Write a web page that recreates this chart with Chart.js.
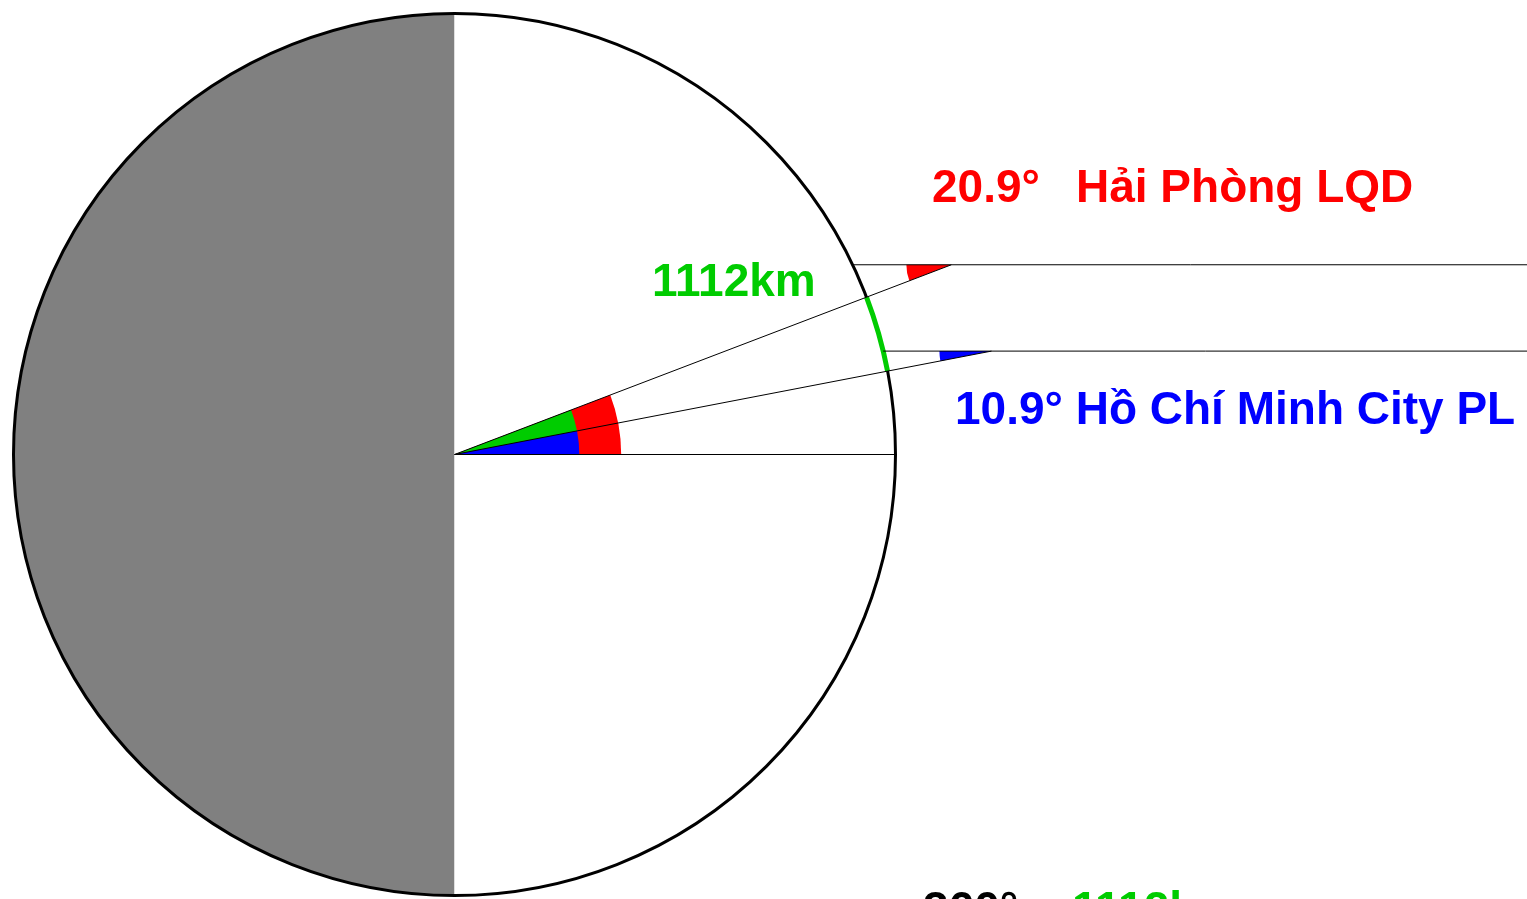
<!DOCTYPE html>
<html>
<head>
<meta charset="utf-8">
<script src="https://cdn.jsdelivr.net/npm/chart.js@4.4.1/dist/chart.umd.min.js"></script>
<style>
  html, body { margin: 0; padding: 0; background: #fff; overflow: hidden; }
  #wrap { width: 1527px; height: 899px; }
</style>
</head>
<body>
<div id="wrap"><canvas id="earth"></canvas></div>
<script>
// the two cities, their latitude (degrees) and colour
var cityNames = ['Hải Phòng LQD', 'Hồ Chí Minh City PL'];
var latitudes = [20.9, 10.9];
var cityColors = ['#ff0000', '#0000ff'];
// how far each ray from the centre runs, in earth radii
var rayLengths = [1.206, 1.24];
var arcLabel = '1112km';
var bottomLabels = ['360°', '1112km'];
var arcColor = '#00cc00';

function rad(d) { return d * Math.PI / 180; }

// visible window in earth radii (centre of the earth = 0,0)
var R_PX = 441;
var xMin = -454.5 / R_PX, xMax = (1527 - 454.5) / R_PX;
var yMax = 454.5 / R_PX, yMin = -(899 - 454.5) / R_PX;

var datasets = [];
latitudes.forEach(function(lat, i) {
  var L = rayLengths[i];
  var ex = L * Math.cos(rad(lat)), ey = L * Math.sin(rad(lat));
  // ray from the centre out past the surface
  datasets.push({ data: [{x: 0, y: 0}, {x: ex, y: ey}] });
  // parallel sun ray, from the surface to the right edge
  datasets.push({ data: [{x: Math.sqrt(1 - ey * ey), y: ey}, {x: xMax + 0.1, y: ey}] });
});
// equator
datasets.push({ data: [{x: 0, y: 0}, {x: 1, y: 0}] });
datasets.forEach(function(d) {
  d.showLine = true;
  d.borderColor = '#000';
  d.borderWidth = 1;
  d.pointRadius = 0;
  d.fill = false;
});

function wedge(ctx, x, y, r, a0, a1, color) {
  ctx.beginPath();
  ctx.moveTo(x, y);
  ctx.arc(x, y, r, a0, a1);
  ctx.closePath();
  ctx.fillStyle = color;
  ctx.fill();
}

var earthPlugin = {
  id: 'earth',
  beforeDatasetsDraw: function(chart) {
    var ctx = chart.ctx, sx = chart.scales.x, sy = chart.scales.y;
    var cx = sx.getPixelForValue(0), cy = sy.getPixelForValue(0);
    var r = sx.getPixelForValue(1) - cx;
    var a0 = rad(latitudes[0]), a1 = rad(latitudes[1]);
    ctx.save();
    // night side / day side
    ctx.beginPath();
    ctx.arc(cx, cy, r, Math.PI / 2, Math.PI * 1.5);
    ctx.closePath();
    ctx.fillStyle = '#808080';
    ctx.fill();
    ctx.beginPath();
    ctx.arc(cx, cy, r, -Math.PI / 2, Math.PI / 2);
    ctx.closePath();
    ctx.fillStyle = '#ffffff';
    ctx.fill();
    // angles at the centre
    wedge(ctx, cx, cy, r * 0.378, -a0, 0, cityColors[0]);
    wedge(ctx, cx, cy, r * 0.283, -a0, -a1, arcColor);
    wedge(ctx, cx, cy, r * 0.283, -a1, 0, cityColors[1]);
    // angles at the end of each ray
    var endR = [0.102, 0.118];
    latitudes.forEach(function(lat, i) {
      var L = rayLengths[i];
      var ex = sx.getPixelForValue(L * Math.cos(rad(lat)));
      var ey = sy.getPixelForValue(L * Math.sin(rad(lat)));
      wedge(ctx, ex, ey, r * endR[i], Math.PI - rad(lat), Math.PI, cityColors[i]);
    });
    // outline
    ctx.beginPath();
    ctx.arc(cx, cy, r, 0, Math.PI * 2);
    ctx.lineWidth = 3;
    ctx.strokeStyle = '#000';
    ctx.stroke();
    // surface distance between the two cities
    ctx.beginPath();
    ctx.arc(cx, cy, r, -a0, -a1);
    ctx.lineWidth = 5;
    ctx.strokeStyle = arcColor;
    ctx.stroke();
    ctx.restore();
  },
  afterDraw: function(chart) {
    var ctx = chart.ctx;
    ctx.save();
    ctx.font = 'bold 46px "Liberation Sans", Arial, sans-serif';
    ctx.textAlign = 'left';
    ctx.textBaseline = 'alphabetic';
    ctx.fillStyle = cityColors[0];
    ctx.fillText(latitudes[0] + '°', 932, 202);
    ctx.fillText(cityNames[0], 1076, 202);
    ctx.fillStyle = cityColors[1];
    ctx.fillText(latitudes[1] + '° ' + cityNames[1], 955, 424);
    ctx.fillStyle = arcColor;
    ctx.fillText(arcLabel, 652, 296);
    ctx.fillStyle = '#000';
    ctx.fillText(bottomLabels[0], 923, 924);
    ctx.fillStyle = arcColor;
    ctx.fillText(bottomLabels[1], 1072, 924);
    ctx.restore();
  }
};

new Chart('earth', {
  type: 'scatter',
  data: { datasets: datasets },
  options: {
    responsive: true,
    maintainAspectRatio: false,
    animation: false,
    events: [],
    layout: { padding: 0 },
    scales: {
      x: { type: 'linear', display: false, min: xMin, max: xMax },
      y: { type: 'linear', display: false, min: yMin, max: yMax }
    },
    plugins: {
      legend: { display: false },
      tooltip: { enabled: false }
    }
  },
  plugins: [earthPlugin]
});
</script>
</body>
</html>
